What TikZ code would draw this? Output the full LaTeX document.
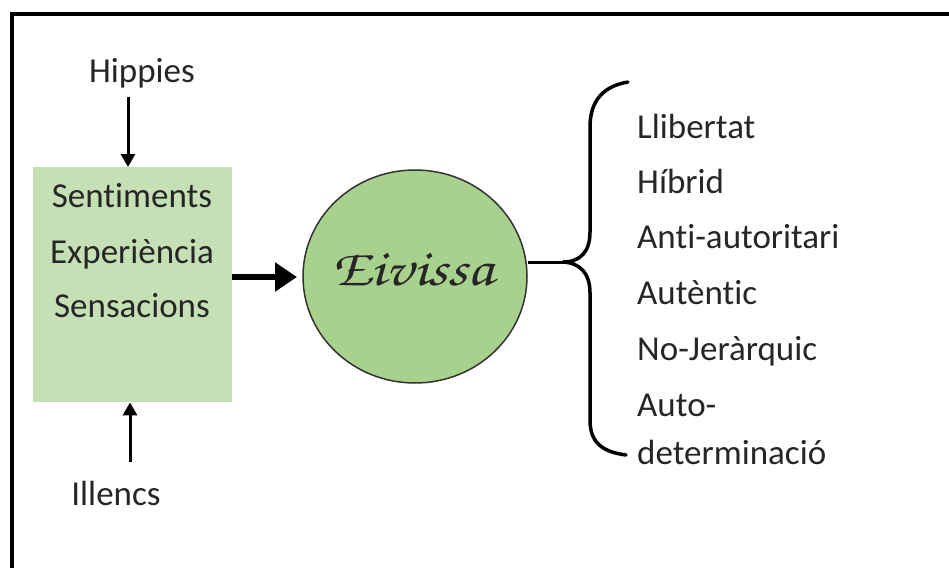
\documentclass[tikz,border=0pt]{standalone}
\usepackage{fontspec}
\setmainfont{Carlito}[Ligatures=NoCommon]
\newfontfamily\chorus{texgyrechorus-mediumitalic.otf}[FakeStretch=1.2]
\usetikzlibrary{arrows.meta,shapes.geometric}
\definecolor{boxgreen}{HTML}{C5E0B4}
\definecolor{circgreen}{HTML}{A9D18E}
\definecolor{txt}{HTML}{262626}
\tikzset{
  lbl/.style={anchor=base west, text=txt, font=\fontsize{35}{38}\selectfont, inner sep=0pt},
  clbl/.style={anchor=base, text=txt, font=\fontsize{35}{38}\selectfont, inner sep=0pt},
  thinarrow/.style={line width=3pt, -{Triangle[length=13pt,width=14pt]}},
  thickarrow/.style={line width=6.5pt, -{Triangle[length=22pt,width=28pt]}},
}
\begin{document}
\begin{tikzpicture}[x=1pt,y=-1pt]
\useasboundingbox (0,0) rectangle (949,567);
\fill[white] (0,0) rectangle (949,567);
\begin{scope}
\clip (0,0) rectangle (949,567);
\draw[line width=3.5pt] (12,14) rectangle (970,590);
\end{scope}
% left box
\node[fill=boxgreen, minimum width=199pt, minimum height=235pt, inner sep=0pt, anchor=north west] (box) at (33,167) {};
\node[clbl] (s1) at (132,207) {Sentiments};
\node[clbl] (s2) at (132,263) {Experiència};
\node[clbl] (s3) at (132,317) {Sensacions};
% top and bottom labels
\node[clbl] (hip) at (142,83) {Hippies};
\node[clbl] (ill) at (116,505) {Illencs};
\coordinate (hipa) at (128,97);
\coordinate (illa) at (130,462);
\draw[thinarrow] (hipa) -- (hipa |- box.north);
\draw[thinarrow] (illa) -- (illa |- box.south);
% circle
\node[ellipse, draw=black!80, line width=1.5pt, fill=circgreen, minimum width=224pt, minimum height=213pt, inner sep=0pt] (eiv) at (415,276.5) {};
\node[anchor=base, inner sep=0pt, text=black!85, font=\chorus\fontsize{52}{56}\selectfont] (eivt) at (413,285) {Eivissa};
\coordinate (aw) at (box.east |- 0,277);
\draw[thickarrow] (aw) -- (297,277);
% brace
\coordinate (tip) at (563,262);
\draw[line width=3pt] (eiv.east |- tip) -- (tip);
\draw[line width=3.5pt, line cap=round]
  (628,82) .. controls (604,86) and (590,100) .. (590,127)
  -- (590,232) .. controls (590,252) and (580,262) .. (tip)
  .. controls (580,263) and (590,273) .. (590,293)
  -- (590,420) .. controls (590,444) and (604,452) .. (626,455);
% right labels
\node[lbl] (r1) at (637,139) {Llibertat};
\node[lbl] (r2) at (637,193) {Híbrid};
\node[lbl] (r3) at (637,248) {Anti-autoritari};
\node[lbl] (r4) at (637,304) {Autèntic};
\node[lbl] (r5) at (637,360) {No-Jeràrquic};
\node[lbl] (r6) at (637,416) {Auto-};
\node[lbl] (r7) at (637,464) {determinació};
\end{tikzpicture}
\end{document}
